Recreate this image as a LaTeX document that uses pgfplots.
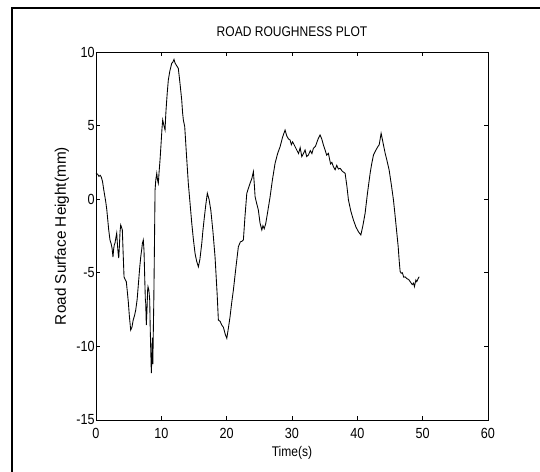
\documentclass[border=0pt]{standalone}
\usepackage{fontspec}
\setmainfont{Liberation Sans}
\usepackage{pgfplots}
\pgfplotsset{compat=1.18}
\begin{document}
\begin{tikzpicture}
\useasboundingbox (0,0) rectangle (405pt,354pt);
\draw[line width=1.4pt] (9pt,-5pt) -- (9pt,348pt) -- (412pt,348pt);
\begin{axis}[
  at={(72pt,39pt)}, anchor=south west,
  scale only axis, width=294pt, height=276pt,
  xmin=0, xmax=60, ymin=-15, ymax=10,
  xtick={0,10,20,30,40,50,60},
  ytick={-15,-10,-5,0,5,10},
  tick pos=both, tick align=inside,
  major tick length=3pt,
  axis line style={line width=0.5pt},
  every tick/.style={black, line width=0.5pt},
  /pgf/number format/assume math mode=true,
  tick label style={font=\fontsize{11}{12}\selectfont, xscale=0.86},
  yticklabel style={anchor=east, inner sep=1pt},
  xticklabel style={anchor=north, inner sep=1pt, yshift=-5pt},
  title={ROAD ROUGHNESS PLOT},
  title style={at={(axis description cs:0.5,1)}, anchor=center, yshift=9pt,
    font=\fontsize{10.5}{12}\selectfont, xscale=0.86},
  xlabel={Time(s)},
  xlabel style={at={(axis description cs:0.5,0)}, anchor=center, yshift=-25pt,
    font=\fontsize{10.5}{12}\selectfont, xscale=0.86},
  ylabel={Road Surface Height(mm)},
  ylabel style={at={(axis description cs:-0.0867,0.5)}, anchor=center,
    font=\fontsize{11.5}{13}\selectfont},
]
\addplot[black, line width=0.65pt] coordinates {
(0.00,1.76) (0.25,1.70) (0.45,1.55) (0.65,1.62) (0.81,1.50) (1.00,1.20)
(1.20,0.60) (1.35,0.20) (1.49,-0.17) (1.65,-0.70) (1.80,-1.40) (1.95,-2.10)
(2.14,-2.77) (2.30,-3.00) (2.45,-3.30) (2.60,-3.93) (2.70,-3.40) (2.80,-3.10)
(2.91,-2.98) (3.05,-2.60) (3.17,-2.30) (3.30,-3.20) (3.40,-3.70) (3.48,-4.00)
(3.58,-3.20) (3.68,-2.20) (3.78,-1.75) (3.90,-1.90) (4.03,-2.09) (4.15,-3.60)
(4.29,-5.27) (4.45,-5.45) (4.64,-5.60) (4.80,-6.30) (4.95,-7.00) (5.10,-7.90)
(5.31,-8.89) (5.50,-8.70) (5.70,-8.20) (5.90,-7.90) (6.08,-7.53) (6.30,-6.80)
(6.50,-5.70) (6.70,-4.60) (6.85,-3.91) (7.00,-3.40) (7.10,-3.00) (7.24,-2.77)
(7.35,-3.50) (7.45,-5.20) (7.55,-6.80) (7.61,-7.05) (7.70,-8.55) (7.80,-7.60)
(7.90,-6.20) (7.96,-5.94) (8.10,-6.20) (8.22,-6.85) (8.30,-8.80) (8.40,-10.60)
(8.47,-11.81) (8.55,-10.80) (8.62,-9.40) (8.70,-11.20) (8.77,-9.09) (8.85,-6.85)
(8.95,-3.00) (9.04,0.62) (9.15,1.30) (9.30,1.76) (9.42,1.30) (9.54,1.08)
(9.65,1.80) (9.80,2.66) (9.95,3.70) (10.10,4.80) (10.21,5.38) (10.35,5.10)
(10.45,4.90) (10.57,4.70) (10.65,5.50) (10.72,6.06) (10.90,7.20) (11.07,8.10)
(11.30,8.70) (11.59,9.23) (11.75,9.30) (11.94,9.50) (12.10,9.25) (12.30,9.10)
(12.60,8.89) (12.85,7.90) (13.12,6.74) (13.25,5.90) (13.37,5.38) (13.58,4.93)
(13.85,3.00) (14.13,1.08) (14.40,-0.30) (14.66,-1.64) (14.90,-2.70) (15.16,-3.68)
(15.40,-4.20) (15.67,-4.59) (15.90,-4.10) (16.19,-3.00) (16.35,-2.20) (16.54,-1.41)
(16.80,-0.40) (17.04,0.40) (17.30,0.00) (17.57,-0.73) (17.90,-2.20) (18.22,-3.91)
(18.55,-6.50) (18.73,-8.21) (19.00,-8.30) (19.25,-8.55) (19.50,-8.70) (19.80,-9.20)
(20.02,-9.45) (20.25,-8.80) (20.52,-7.98) (20.75,-7.10) (21.03,-6.17) (21.40,-4.70)
(21.79,-3.23) (22.10,-2.90) (22.35,-2.85) (22.56,-2.77) (22.80,-1.20) (23.08,0.40)
(23.30,0.70) (23.58,1.08) (23.85,1.40) (24.09,1.87) (24.25,0.90) (24.35,0.17)
(24.60,-0.30) (24.85,-0.73) (25.10,-1.60) (25.38,-2.09) (25.55,-1.80) (25.75,-2.00)
(25.99,-1.64) (26.30,-0.80) (26.65,0.17) (27.00,1.30) (27.41,2.44) (27.80,3.10)
(28.18,3.57) (28.55,4.20) (28.94,4.70) (29.20,4.30) (29.45,4.10) (29.71,4.02)
(29.90,3.70) (30.10,3.90) (30.47,3.57) (30.73,3.34) (31.00,3.10) (31.25,3.50)
(31.50,2.89) (31.75,3.10) (32.00,3.34) (32.25,2.90) (32.51,3.00) (32.80,3.30)
(33.05,3.10) (33.28,3.46) (33.60,3.60) (34.00,4.10) (34.30,4.36) (34.55,4.10)
(34.80,3.70) (35.07,3.34) (35.30,3.00) (35.57,3.12) (35.90,2.40) (36.10,2.50)
(36.34,2.21) (36.60,2.00) (36.85,2.30) (37.10,2.05) (37.37,2.10) (37.70,1.90)
(38.13,1.76) (38.40,0.90) (38.64,-0.05) (39.00,-0.80) (39.40,-1.41) (39.80,-1.90)
(40.17,-2.21) (40.54,-2.43) (40.85,-1.80) (41.19,-0.96) (41.55,0.40) (41.96,1.76)
(42.20,2.40) (42.47,3.00) (42.80,3.30) (43.14,3.57) (43.35,3.70) (43.64,4.48)
(43.95,3.80) (44.26,3.12) (44.55,2.60) (44.87,1.98) (45.20,1.00) (45.53,-0.05)
(45.80,-1.20) (46.05,-2.32) (46.25,-3.20) (46.40,-4.13) (46.55,-4.90) (46.71,-5.03)
(46.90,-5.00) (47.10,-5.30) (47.32,-5.27) (47.60,-5.40) (47.85,-5.45) (48.09,-5.60)
(48.40,-5.80) (48.60,-5.70) (48.74,-5.94) (48.85,-5.70) (48.96,-5.49) (49.10,-5.60)
(49.30,-5.40) (49.46,-5.27)
};
\end{axis}
\end{tikzpicture}
\end{document}
